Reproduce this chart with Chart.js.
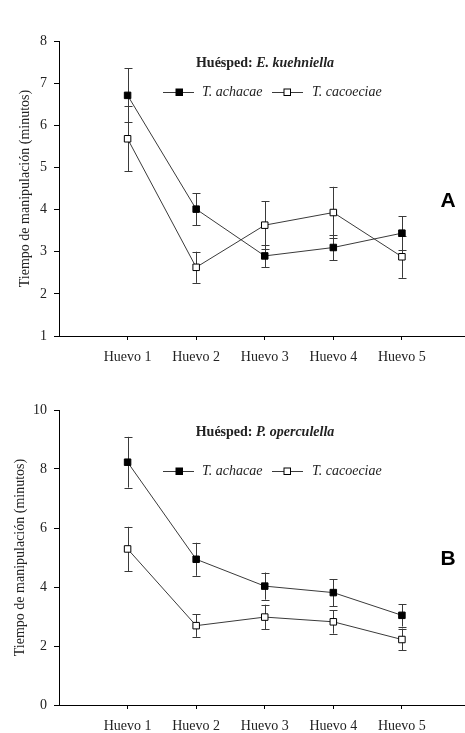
<!DOCTYPE html>
<html>
<head>
<meta charset="utf-8">
<script src="https://cdn.jsdelivr.net/npm/chart.js@4/dist/chart.umd.min.js"></script>
<style>
  html, body { margin: 0; padding: 0; background: #fff; overflow: hidden; }
  .panel { position: absolute; left: 0; }
</style>
</head>
<body>
<div class="panel" style="top:0"><canvas id="chartA" width="465" height="367"></canvas></div>
<div class="panel" style="top:367px"><canvas id="chartB" width="465" height="366"></canvas></div>
<script>
// --- Data ---
const categories = ['Huevo 1', 'Huevo 2', 'Huevo 3', 'Huevo 4', 'Huevo 5'];
const seriesNames = ['T. achacae', 'T. cacoeciae'];

// Panel A: host E. kuehniella
const achacaeA = [6.71, 4.01, 2.90, 3.10, 3.44];
const achacaeAErr = [0.64, 0.38, 0.27, 0.30, 0.40];
const cacoeciaeA = [5.68, 2.63, 3.63, 3.93, 2.88];
const cacoeciaeAErr = [0.77, 0.37, 0.57, 0.61, 0.50];

// Panel B: host P. operculella
const achacaeB = [8.23, 4.94, 4.03, 3.81, 3.04];
const achacaeBErr = [0.86, 0.56, 0.46, 0.46, 0.38];
const cacoeciaeB = [5.29, 2.69, 2.98, 2.82, 2.22];
const cacoeciaeBErr = [0.75, 0.38, 0.42, 0.40, 0.37];

const yTicksA = [1, 2, 3, 4, 5, 6, 7, 8];
const yTicksB = [0, 2, 4, 6, 8, 10];

const SERIF = '"Liberation Serif", "Times New Roman", serif';
const INK = '#222';
const LINE = '#3a3a3a';

// --- Helpers ---
function toPoints(values) {
    return values.map((v, i) => ({ x: i + 1, y: v }));
}

// error bars drawn under the markers, through the chart scales
const errorBarPlugin = {
    id: 'errorBars',
    beforeDatasetsDraw(chart) {
        const ctx = chart.ctx;
        const xs = chart.scales.x, ys = chart.scales.y;
        ctx.save();
        ctx.strokeStyle = LINE;
        ctx.lineWidth = 1;
        chart.data.datasets.forEach(ds => {
            if (!ds.errors) return;
            ds.data.forEach((p, i) => {
                const e = ds.errors[i];
                const x = Math.round(xs.getPixelForValue(p.x)) + 0.5;
                const yTop = ys.getPixelForValue(p.y + e);
                const yBot = ys.getPixelForValue(p.y - e);
                ctx.beginPath();
                ctx.moveTo(x, yTop); ctx.lineTo(x, yBot);
                ctx.moveTo(x - 4, Math.round(yTop) + 0.5); ctx.lineTo(x + 4, Math.round(yTop) + 0.5);
                ctx.moveTo(x - 4, Math.round(yBot) + 0.5); ctx.lineTo(x + 4, Math.round(yBot) + 0.5);
                ctx.stroke();
            });
        });
        ctx.restore();
    }
};

// host title, legend and panel letter
const annotatePlugin = {
    id: 'annotate',
    afterDraw(chart, args, opts) {
        const ctx = chart.ctx;
        const top = chart.chartArea.top;
        ctx.save();
        ctx.fillStyle = INK;
        ctx.textBaseline = 'middle';

        // title: "Huésped: " bold + species bold italic
        const boldFont = 'bold 14px ' + SERIF;
        const bItFont = 'italic bold 14px ' + SERIF;
        ctx.font = boldFont;
        const w1 = ctx.measureText('Huésped: ').width;
        ctx.font = bItFont;
        const w2 = ctx.measureText(opts.host).width;
        let tx = 265 - (w1 + w2) / 2;
        const ty = top + opts.titleDy;
        ctx.textAlign = 'left';
        ctx.font = boldFont;
        ctx.fillText('Huésped: ', tx, ty);
        ctx.font = bItFont;
        ctx.fillText(opts.host, tx + w1, ty);

        // legend
        const ly = Math.round(top + opts.legendDy) + 0.5;
        const entries = [
            { x0: 163, x1: 194, mx: 179, tx: 202, fill: '#000' },
            { x0: 272, x1: 303, mx: 287, tx: 312, fill: '#fff' }
        ];
        ctx.font = 'italic 14px ' + SERIF;
        entries.forEach((en, i) => {
            ctx.strokeStyle = LINE;
            ctx.lineWidth = 1;
            ctx.beginPath();
            ctx.moveTo(en.x0, ly); ctx.lineTo(en.x1, ly);
            ctx.stroke();
            ctx.fillStyle = en.fill;
            ctx.fillRect(en.mx - 3, ly - 3.5, 6.5, 6.5);
            ctx.strokeStyle = '#000';
            ctx.strokeRect(en.mx - 3, ly - 3.5, 6.5, 6.5);
            ctx.fillStyle = INK;
            ctx.fillText(seriesNames[i], en.tx, ly);
        });

        // panel letter
        ctx.font = 'bold 21px "Liberation Sans", Arial, sans-serif';
        ctx.textAlign = 'center';
        ctx.fillStyle = '#000';
        ctx.fillText(opts.letter, 448, top + opts.letterDy);
        ctx.restore();
    }
};

function makeChart(id, cfg) {
    const ctx = document.getElementById(id).getContext('2d');
    return new Chart(ctx, {
        type: 'line',
        data: {
            datasets: [{
                label: seriesNames[0],
                data: toPoints(cfg.filled),
                errors: cfg.filledErr,
                borderColor: LINE,
                borderWidth: 1,
                pointStyle: 'rect',
                pointRadius: 4.6,
                pointBackgroundColor: '#000',
                pointBorderColor: '#000',
                pointBorderWidth: 1
            }, {
                label: seriesNames[1],
                data: toPoints(cfg.open),
                errors: cfg.openErr,
                borderColor: LINE,
                borderWidth: 1,
                pointStyle: 'rect',
                pointRadius: 4.6,
                pointBackgroundColor: '#fff',
                pointBorderColor: '#000',
                pointBorderWidth: 1
            }]
        },
        options: {
            responsive: false,
            animation: false,
            layout: {
                autoPadding: false,
                padding: { left: cfg.padLeft, top: cfg.padTop, right: 0, bottom: 0 }
            },
            plugins: {
                legend: { display: false },
                tooltip: { enabled: false },
                annotate: cfg.annotate
            },
            scales: {
                x: {
                    type: 'linear',
                    min: 0,
                    max: 5.92,
                    afterBuildTicks: scale => { scale.ticks = categories.map((c, i) => ({ value: i + 1 })); },
                    afterFit: scale => { scale.height = cfg.xHeight; },
                    ticks: {
                        callback: v => categories[v - 1],
                        font: { family: SERIF, size: 14 },
                        color: INK,
                        padding: 9,
                        maxRotation: 0
                    },
                    grid: { drawOnChartArea: false, drawTicks: true, tickLength: 4, color: '#000' },
                    border: { display: true, color: '#000', width: 1 }
                },
                y: {
                    min: cfg.yTicks[0],
                    max: cfg.yTicks[cfg.yTicks.length - 1],
                    afterBuildTicks: scale => { scale.ticks = cfg.yTicks.map(v => ({ value: v })); },
                    afterFit: scale => { scale.width = 59 - cfg.padLeft; },
                    ticks: {
                        font: { family: SERIF, size: 14 },
                        color: INK,
                        padding: 7
                    },
                    title: {
                        display: true,
                        text: 'Tiempo de manipulación (minutos)',
                        font: { family: SERIF, size: 14 },
                        color: INK,
                        padding: { top: 4, bottom: 4 }
                    },
                    grid: { drawOnChartArea: false, drawTicks: true, tickLength: 5, color: '#000' },
                    border: { display: true, color: '#000', width: 1 }
                }
            }
        },
        plugins: [errorBarPlugin, annotatePlugin]
    });
}

document.addEventListener('DOMContentLoaded', () => {
    makeChart('chartA', {
        filled: achacaeA, filledErr: achacaeAErr,
        open: cacoeciaeA, openErr: cacoeciaeAErr,
        yTicks: yTicksA,
        padLeft: 13, padTop: 41, xHeight: 31,
        annotate: { host: 'E. kuehniella', titleDy: 22, legendDy: 51, letter: 'A', letterDy: 160 }
    });
    makeChart('chartB', {
        filled: achacaeB, filledErr: achacaeBErr,
        open: cacoeciaeB, openErr: cacoeciaeBErr,
        yTicks: yTicksB,
        padLeft: 8, padTop: 43, xHeight: 28,
        annotate: { host: 'P. operculella', titleDy: 22, legendDy: 61, letter: 'B', letterDy: 149 }
    });
});
</script>
</body>
</html>
